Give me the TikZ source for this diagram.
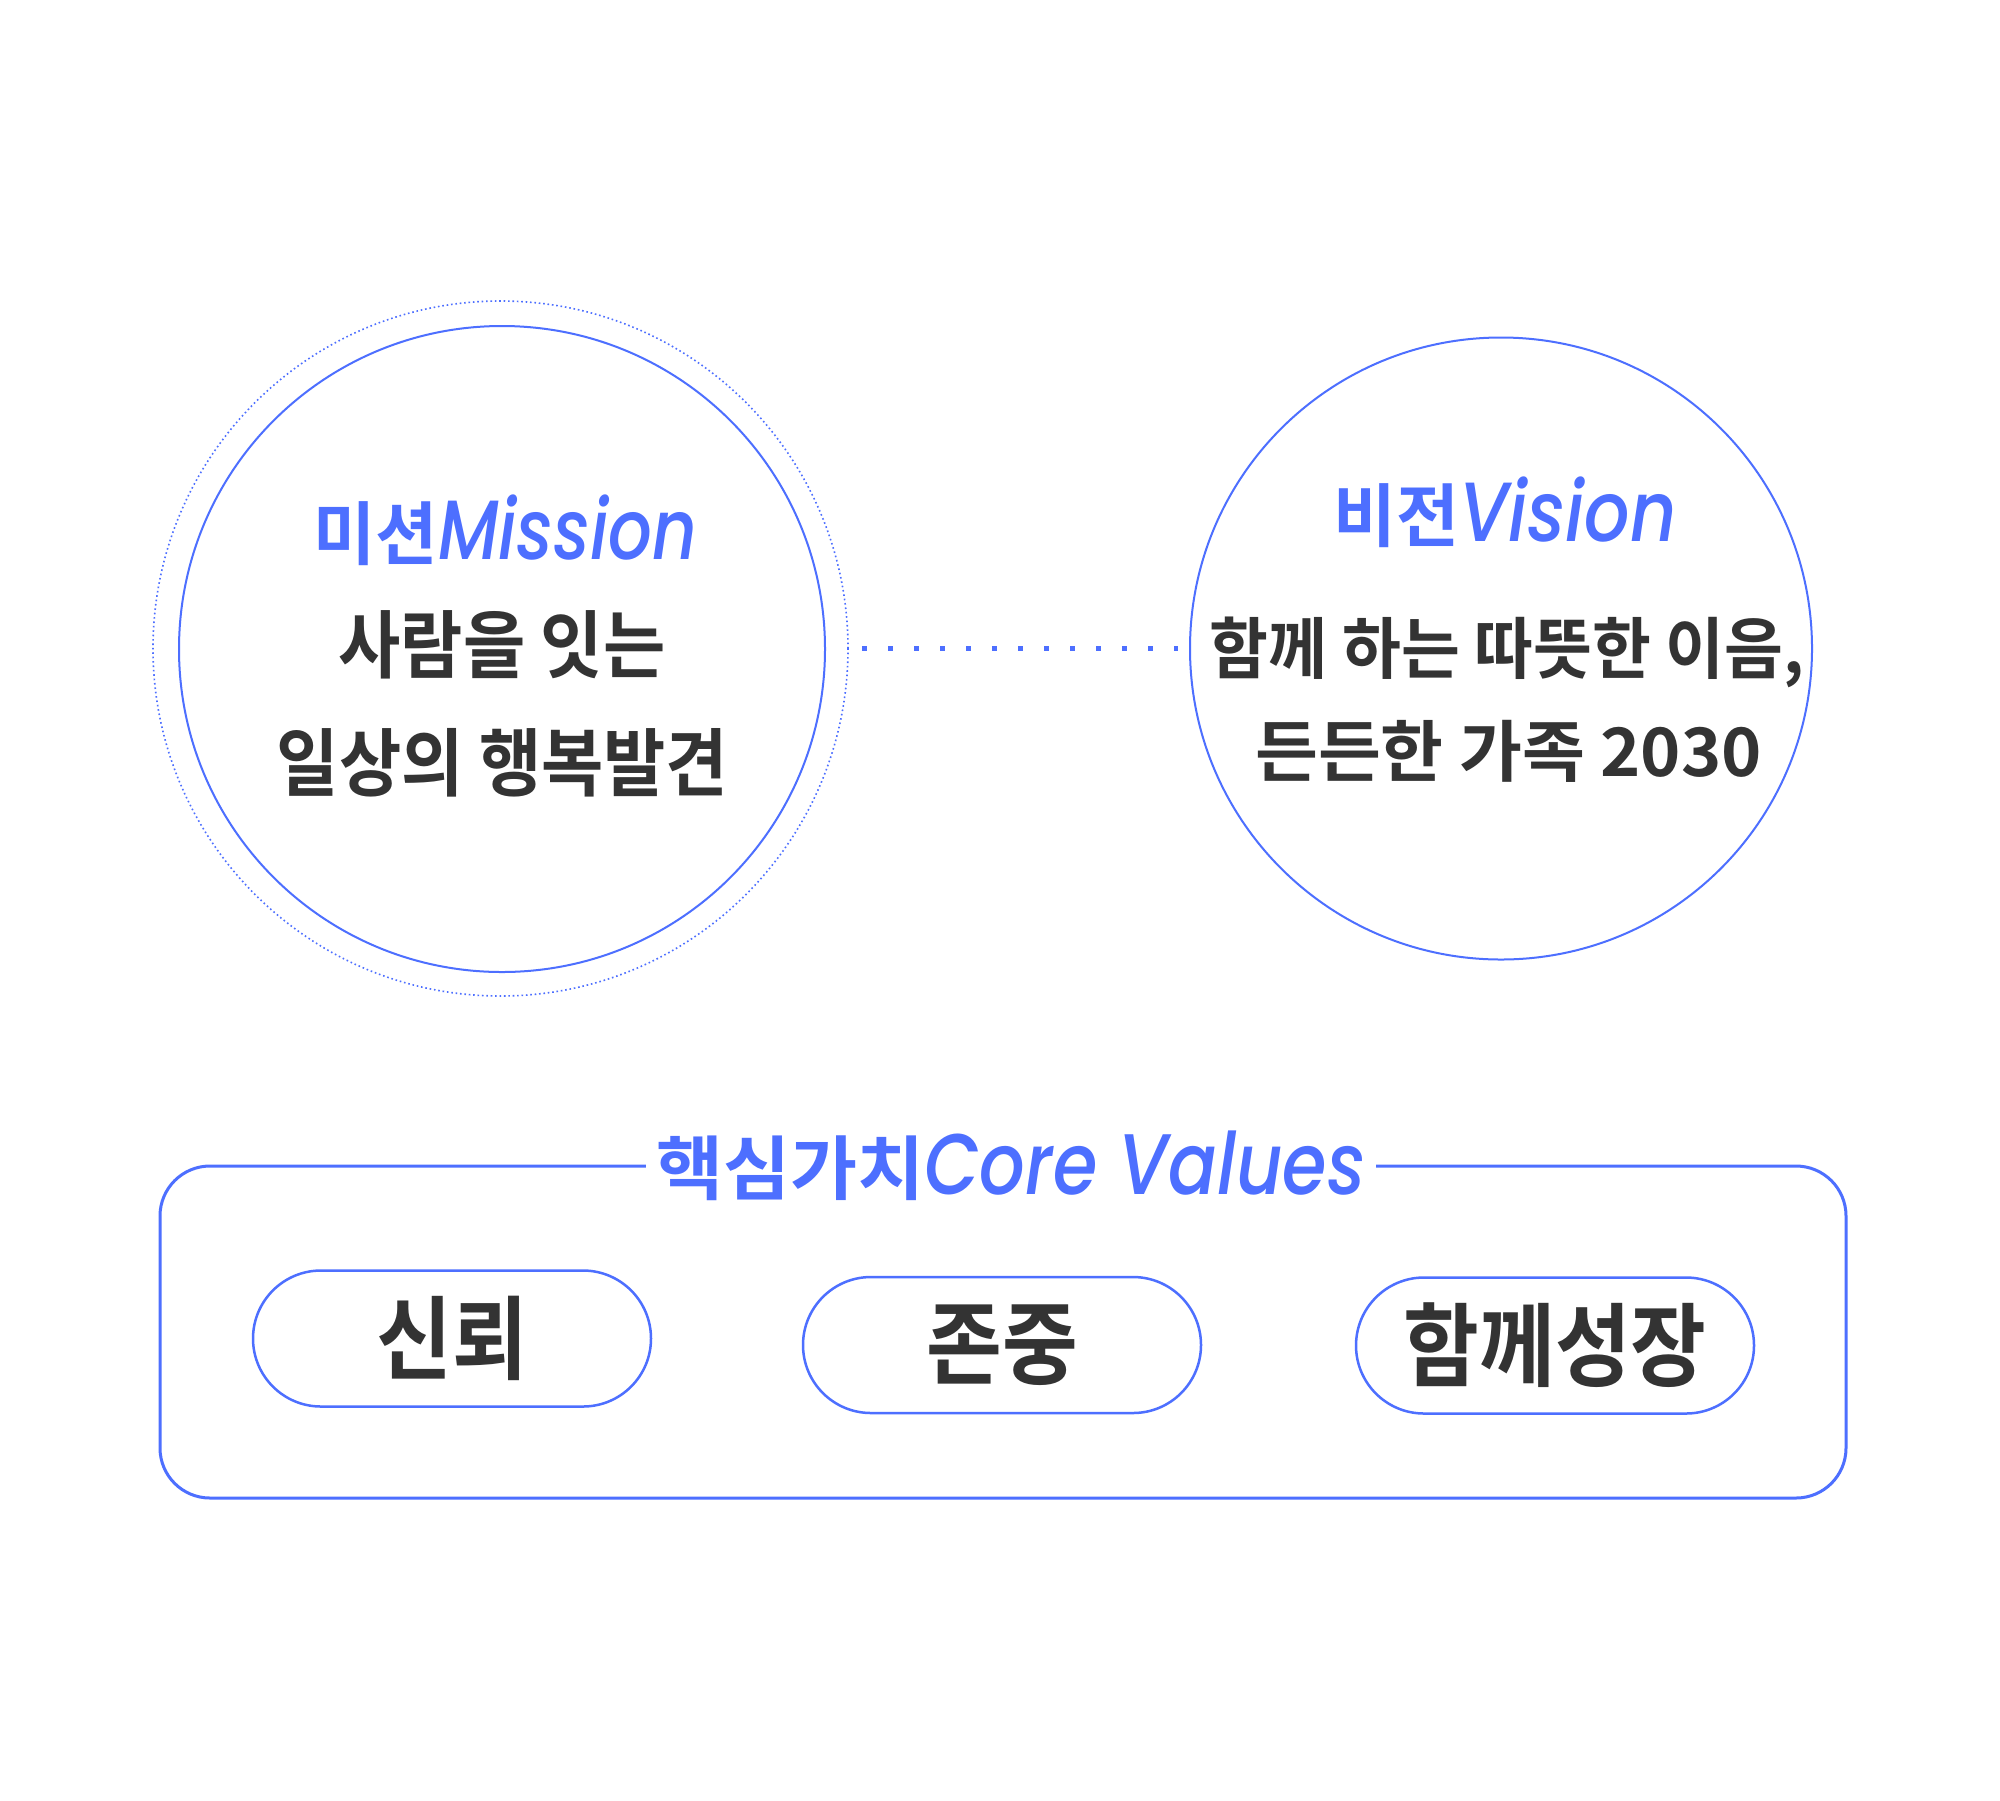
\documentclass[tikz,border=0pt]{standalone}
\usepackage{fontspec}
\usepackage{graphicx}
\newfontfamily\kr{Noto Sans CJK KR Bold}
\newfontfamily\popit{Poppins Medium Italic}
\definecolor{brand}{HTML}{4D6FFF}
\definecolor{ink}{HTML}{333333}
\newcommand{\hsc}[2]{\scalebox{#1}[1]{#2}}
\tikzset{
  ring/.style={circle, draw=brand, line width=1pt, inner sep=0pt},
  dotring/.style={circle, draw=brand, line width=0.8pt, dash pattern=on 0.8pt off 1.4pt, inner sep=0pt},
  dotline/.style={draw=brand, line width=2.5pt, dash pattern=on 2.5pt off 10.5pt},
  ttl/.style={text=brand, inner sep=0pt},
  body/.style={text=ink, inner sep=0pt},
  pill/.style={draw=brand, line width=1.25pt, rounded corners=34pt, minimum width=199pt,
    minimum height=68pt, inner sep=0pt, text=ink, font=\kr\fontsize{45.5}{45.5}\selectfont},
  cvbox/.style={draw=brand, line width=1.5pt, rounded corners=25pt, minimum width=843pt,
    minimum height=166pt, inner sep=0pt},
}
\begin{document}
\begin{tikzpicture}[x=0.5pt,y=-0.5pt]
\useasboundingbox (0,0) rectangle (2000,1800);
\fill[white] (0,0) rectangle (2000,1800);
% Mission
\node[dotring, minimum size=347.5pt] (mout) at (500.5,648.5) {};
\node[ring, minimum size=323pt] (mis) at (502,649) {};
\node[ttl] (mt) at (505.5,530.5) {\kr\fontsize{34.5}{34.5}\selectfont\hsc{0.98}{미션}\popit\fontsize{42}{42}\selectfont\hsc{0.82}{Mission}};
\node[body] (m1) at (502,644.5) {\kr\fontsize{37}{37}\selectfont\hsc{0.915}{사람을 잇는}};
\node[body] (m2) at (502.5,762.5) {\kr\fontsize{37}{37}\selectfont\hsc{0.915}{일상의 행복발견}};
% Vision
\node[ring, minimum size=311pt] (vis) at (1501,648.5) {};
\node[ttl] (vt) at (1505,512) {\kr\fontsize{34.5}{34.5}\selectfont\hsc{0.99}{비전}\popit\fontsize{42}{42}\selectfont\hsc{0.85}{Vision}};
\node[body] (v1) at (1507,652) {\kr\fontsize{33.5}{33.5}\selectfont\hsc{0.955}{함께 하는 따뜻한 이음,}};
\node[body] (v2) at (1508.5,751.5) {\kr\fontsize{33.5}{33.5}\selectfont\hsc{1.02}{든든한 가족 2030}};
% connector
\draw[dotline] ([xshift=6.75pt]mout.east) -- ([xshift=-5.5pt]vis.west);
% Core values
\node[cvbox] (box) at (1003,1332) {};
\node[ttl, fill=white, inner xsep=5pt] (ct) at (1011,1166) {\kr\fontsize{35}{35}\selectfont\hsc{1.04}{핵심가치}\popit\fontsize{43}{43}\selectfont\hsc{0.835}{Core Values}};
\node[pill] (p1) at (452,1338.5) {\hsc{0.905}{신뢰}};
\node[pill] (p2) at (1002,1345) {\hsc{0.905}{존중}};
\node[pill] (p3) at (1555,1345.5) {\hsc{0.905}{함께성장}};
\end{tikzpicture}
\end{document}
